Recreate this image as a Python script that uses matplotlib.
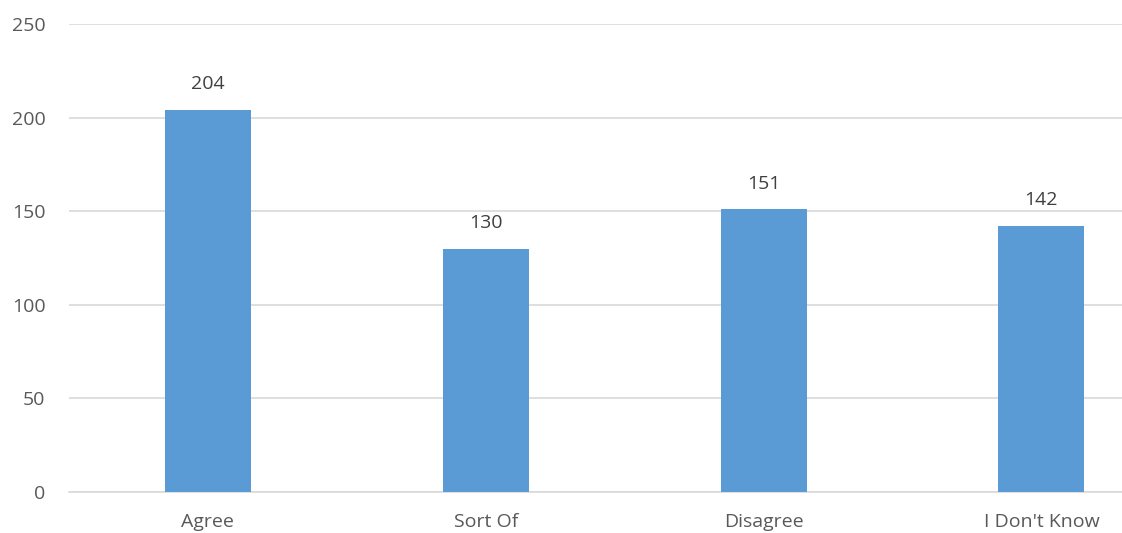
import matplotlib
matplotlib.use("Agg")
import matplotlib.pyplot as plt

# valores do gráfico
categories = ["Agree", "Sort Of", "Disagree", "I Don't Know"]
counts = [204, 130, 151, 142]
y_ticks = [0, 50, 100, 150, 200, 250]

plt.rcParams['font.family'] = ['Open Sans', 'DejaVu Sans']

fig = plt.figure(figsize=(11.22, 5.33), dpi=100)
ax = fig.add_axes([0.0615, 0.077, 0.9385, 0.878])

x = range(len(categories))
bars = ax.bar(x, counts, width=0.31, color="#5B9BD5", zorder=3)

for xi, v in zip(x, counts):
    ax.annotate(str(v), (xi, v), xytext=(0, 12), textcoords="offset points",
                ha="center", va="bottom", fontsize=14, color="#404040")

ax.set_xlim(-0.5, 3.29)
ax.set_ylim(0, 250)
ax.set_yticks(y_ticks)
ax.set_xticks(list(x))
ax.set_xticklabels(categories)
ax.grid(axis="y", color="#D9D9D9", linewidth=1.2, zorder=0)
ax.tick_params(axis="y", length=0, pad=17, labelsize=14, labelcolor="#595959")
ax.tick_params(axis="x", length=0, pad=15, labelsize=14, labelcolor="#595959")
for s in ["top", "right", "left"]:
    ax.spines[s].set_visible(False)
ax.spines["bottom"].set_color("#D9D9D9")
ax.spines["bottom"].set_linewidth(1.2)

fig.savefig("out.png", dpi=100)
